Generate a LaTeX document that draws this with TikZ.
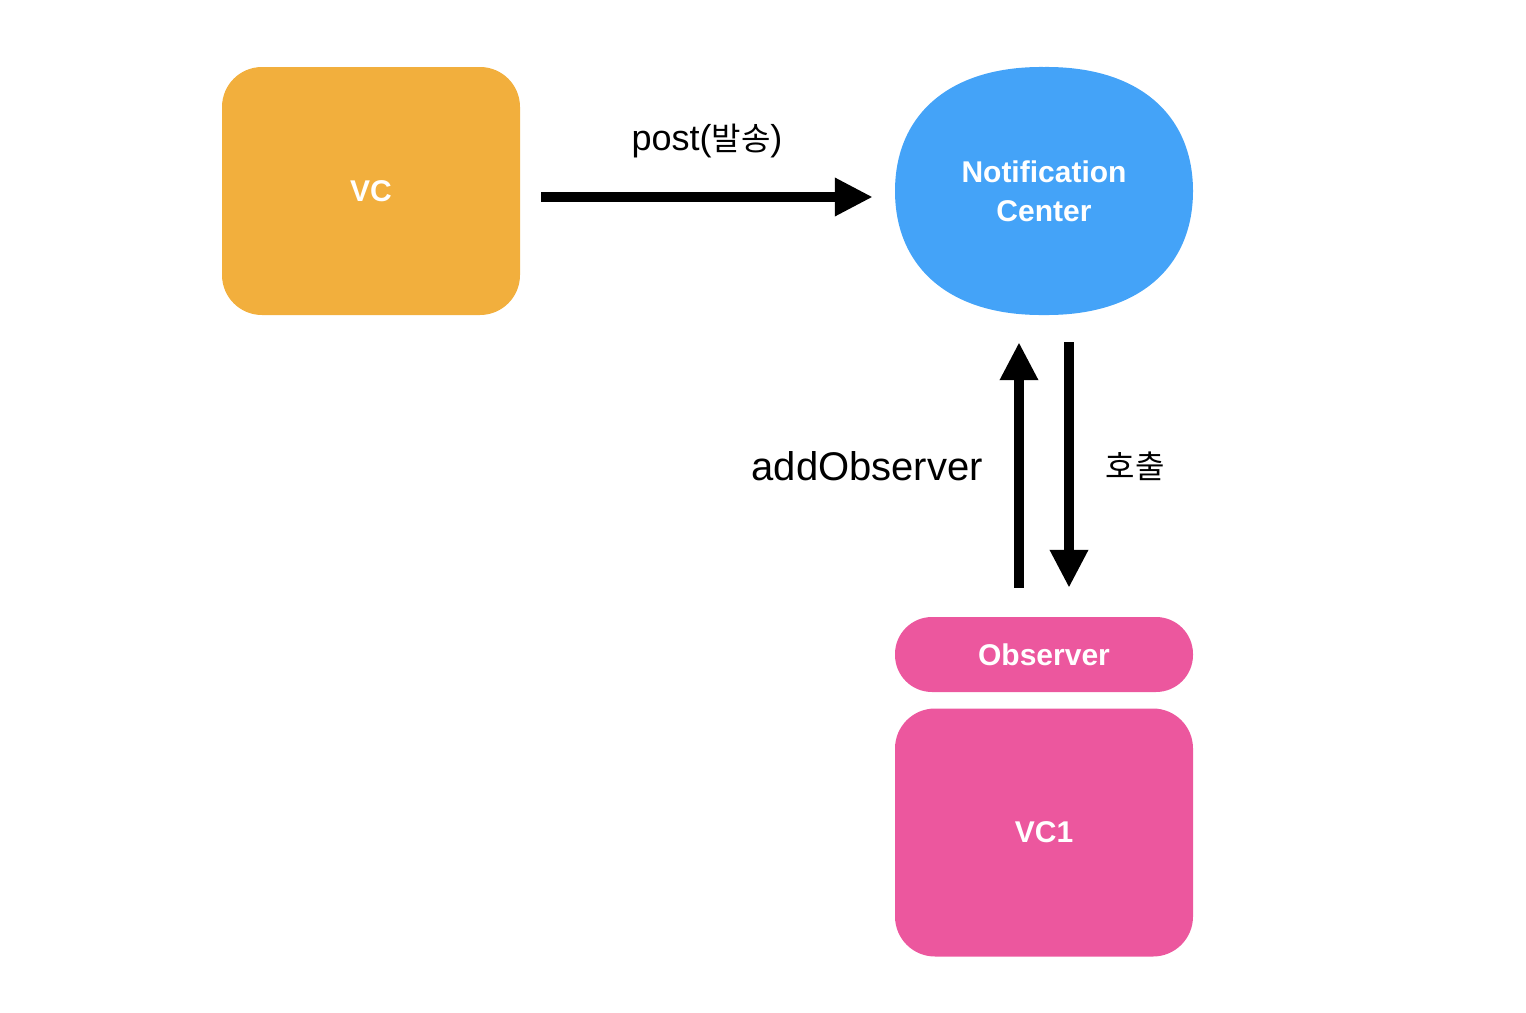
\documentclass[tikz,border=0pt]{standalone}
\usepackage{fontspec}
\setmainfont{Liberation Sans}
\newfontfamily\kr{Noto Sans CJK KR}
\usetikzlibrary{arrows.meta}
\definecolor{vcorange}{HTML}{F2AF3D}
\definecolor{ncblue}{HTML}{44A3F8}
\definecolor{obpink}{HTML}{EC579E}
\tikzset{
  box/.style={rounded corners=40pt, minimum width=298pt, minimum height=248pt, inner sep=0pt,
    text=white, font=\fontsize{30}{39}\selectfont\bfseries},
  pill/.style={rounded corners=37pt, minimum width=298pt, minimum height=75pt, inner sep=0pt,
    text=white, font=\fontsize{30}{36}\selectfont\bfseries},
  bigarrow/.style={line width=10pt, -{Triangle[length=38pt,width=36pt]}},
  lbl/.style={inner sep=0pt, font=\fontsize{36}{42}\selectfont},
}
\begin{document}
\begin{tikzpicture}[x=1pt,y=-1pt]
\useasboundingbox (0,0) rectangle (1526,1012);
% Notification center blob
\fill[ncblue] (1044,67) .. controls (1140,66) and (1193,116) .. (1193,191)
  .. controls (1193,266) and (1140,316) .. (1044,315)
  .. controls (948,316) and (895,266) .. (895,191)
  .. controls (895,116) and (948,66) .. (1044,67) -- cycle;
\node[box, align=center] (nc) at (1044,191) {Notification\\Center};
\node[box, fill=vcorange] (vc) at (371,191) {VC};
\node[pill, fill=obpink] (obs) at (1044,654.5) {Observer};
\node[box, fill=obpink] (vc1) at (1044,832.5) {VC1};
% connectors
\draw[bigarrow, shorten <=21pt, shorten >=22pt] ([yshift=-6pt]vc.east) -- ([yshift=-6pt]nc.west);
\draw[bigarrow, shorten <=29pt, shorten >=27pt] ([xshift=-25pt]obs.north) -- ([xshift=-25pt]nc.south);
\draw[bigarrow, shorten <=27pt, shorten >=29pt] ([xshift=25pt]nc.south) -- ([xshift=25pt]obs.north);
% labels
\node[lbl] (postlbl) at (707,141) {post({\kr\fontsize{32}{40}\selectfont 발송})};
\node[lbl, anchor=east, font=\fontsize{40}{44}\selectfont] (addlbl) at (983,466) {addObserver};
\node[lbl, font=\kr\fontsize{32}{40}\selectfont] (calllbl) at (1135,466) {호출};
\end{tikzpicture}
\end{document}
